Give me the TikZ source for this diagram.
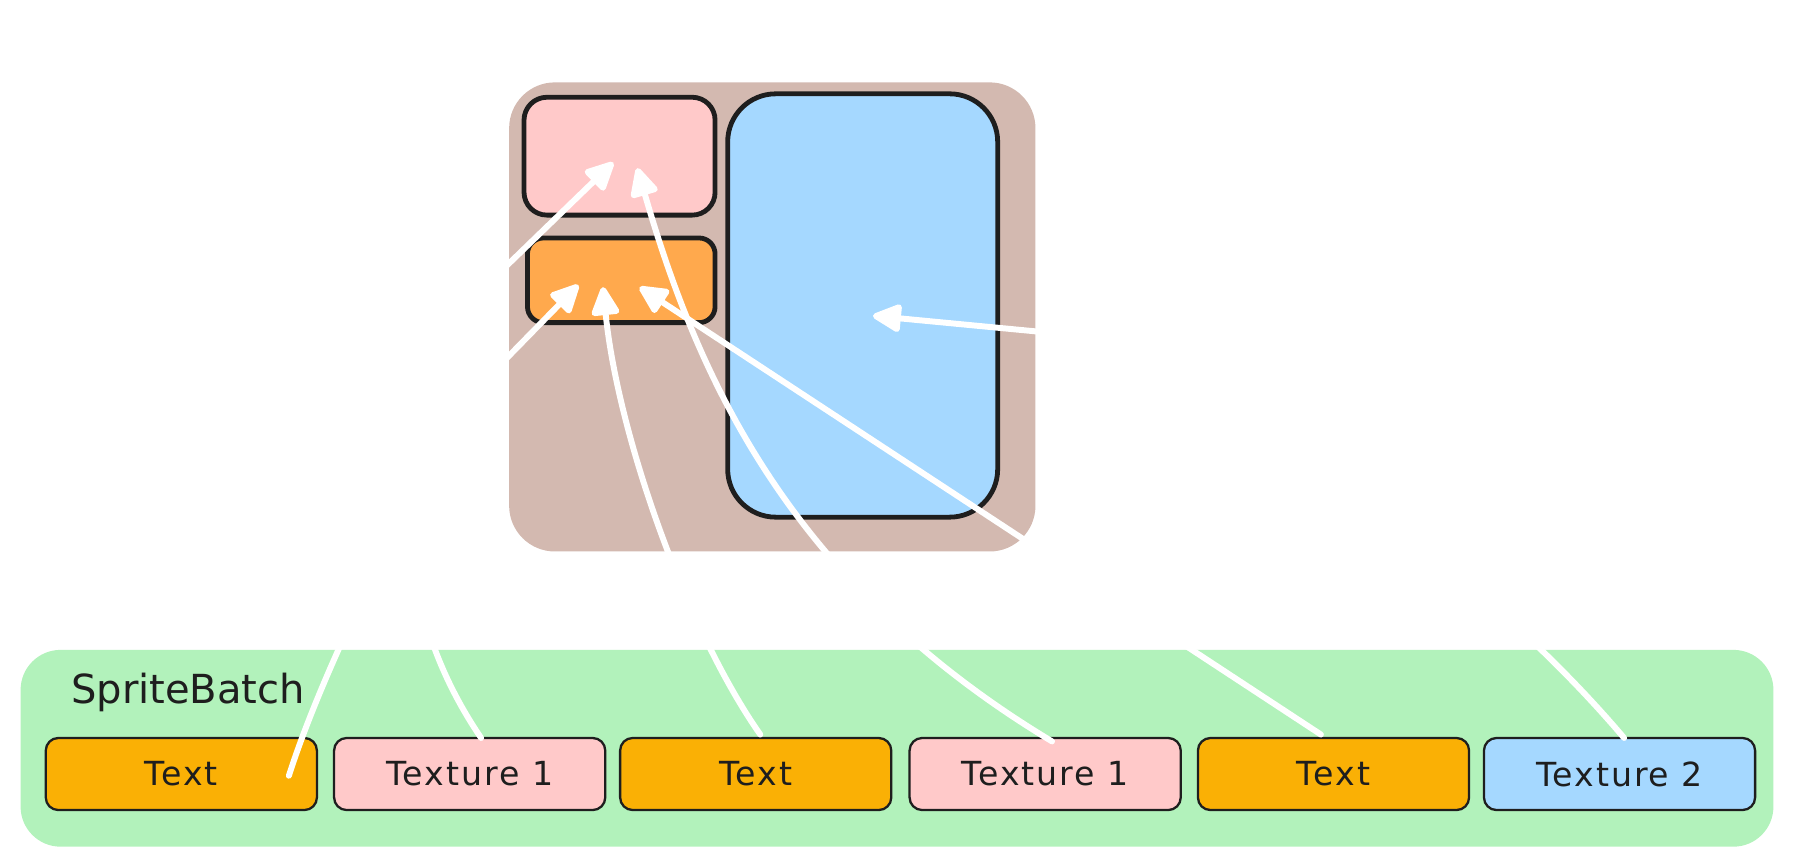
\documentclass[tikz,border=0pt]{standalone}
\usepackage{fontspec}
\setmainfont{DejaVu Sans}
\usetikzlibrary{arrows.meta,calc}
\definecolor{ink}{HTML}{1E1E1E}
\definecolor{brownfill}{HTML}{D3B9B0}
\definecolor{pinkfill}{HTML}{FFC9C9}
\definecolor{orangefill}{HTML}{FFA94D}
\definecolor{bluefill}{HTML}{A5D8FF}
\definecolor{greenfill}{HTML}{B2F2BB}
\definecolor{yellowfill}{HTML}{FAB005}
\begin{document}
\begin{tikzpicture}[x=1pt,y=-1pt,
  region/.style={draw=ink, line width=4.2pt, rounded corners=#1, anchor=north west, inner sep=0pt, outer sep=0pt},
  panel/.style={rounded corners=#1, anchor=north west, inner sep=0pt, outer sep=0pt},
  tile/.style={draw=ink, line width=2pt, rounded corners=11pt, anchor=north west, inner sep=0pt, outer sep=0pt,
    minimum width=237pt, minimum height=63pt, font=\fontsize{29}{31}\selectfont\addfontfeatures{LetterSpace=6}, text=ink},
  wire/.style={white, line width=5.2pt, line cap=round, line join=round, -{Triangle[round, length=28pt, width=26pt]}}]
\useasboundingbox (0,0) rectangle (1568,758);

% texture atlas
\node[panel=40pt, fill=brownfill, minimum width=460pt, minimum height=410pt] (atlas) at (445,72) {};
\node[region=20pt, fill=pinkfill, minimum width=167pt, minimum height=103pt] (pink) at (458,85) {};
\node[region=14pt, fill=orangefill, minimum width=164pt, minimum height=74pt] (orange) at (461,208) {};
\node[region=42pt, fill=bluefill, minimum width=236pt, minimum height=370pt] (blue) at (636,82) {};

% sprite batch
\node[panel=35pt, fill=greenfill, minimum width=1532pt, minimum height=172pt] (batch) at (18,568) {};
\node[anchor=base west, inner sep=0pt, font=\fontsize{35}{38}\selectfont, text=ink] (title) at (62,615) {SpriteBatch};

\node[tile, fill=yellowfill] (b1) at (40,645) {Text};
\node[tile, fill=pinkfill] (b2) at (292,645) {Texture 1};
\node[tile, fill=yellowfill] (b3) at (542,645) {Text};
\node[tile, fill=pinkfill] (b4) at (795,645) {Texture 1};
\node[tile, fill=yellowfill] (b5) at (1047,645) {Text};
\node[tile, fill=bluefill] (b6) at (1297,645) {Texture 2};

% arrow end points
\coordinate (s1) at ($(b1.center)+(94,1.5)$);
\coordinate (s2) at ($(b2.north)+(10,0)$);
\coordinate (s3) at ($(b3.north)+(4,-3)$);
\coordinate (s4) at ($(b4.north)+(6,3)$);
\coordinate (s5) at ($(b5.north)+(-11,-3)$);
\coordinate (s6) at ($(b6.north)+(4,0)$);

\coordinate (pkA) at ($(pink.center)+(-5.5,5.5)$);
\coordinate (pkB) at ($(pink.center)+(15.5,10.5)$);
\coordinate (orA) at ($(orange.center)+(-37.5,4)$);
\coordinate (orB) at ($(orange.center)+(-16,6)$);
\coordinate (orC) at ($(orange.center)+(16,6)$);
\coordinate (blT) at ($(blue.center)+(9,9)$);

\coordinate (v1) at (440,316);
\coordinate (v2) at (440,235);
\coordinate (v6) at (930,292);

% arrows
\draw[wire] (s1) .. controls (290,560) and (400,350) .. (v1) -- (orA);
\draw[wire] (s2) .. controls (295,460) and (395,280) .. (v2) -- (pkA);
\draw[wire] (s3) .. controls (600,550) and (540,380) .. (orB);
\draw[wire] (s4) .. controls (690,510) and (610,330) .. (pkB);
\draw[wire] (s5) -- (orC);
\draw[wire] (s6) .. controls (1280,480) and (1050,330) .. (v6) -- (blT);
\end{tikzpicture}
\end{document}
